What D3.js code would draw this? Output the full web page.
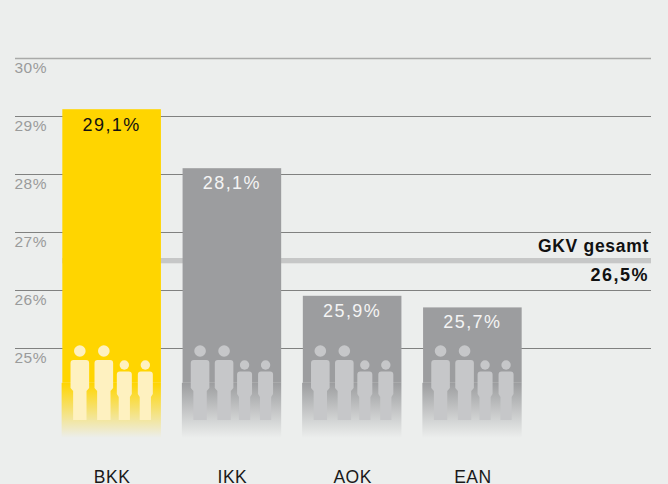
<!DOCTYPE html>
<html><head><meta charset="utf-8">
<script src="https://cdnjs.cloudflare.com/ajax/libs/d3/7.8.5/d3.min.js"></script>
<style>html,body{margin:0;padding:0;background:#eceeed;overflow:hidden}svg{display:block}text{font-family:"Liberation Sans",Arial,sans-serif}</style>
</head><body><div id="c"></div>
<script>
const categories = ["BKK","IKK","AOK","EAN"];
const values = [29.1,28.1,25.9,25.7];
const valueLabels = ["29,1%","28,1%","25,9%","25,7%"];
const tickValues = [25,26,27,28,29,30];
const tickLabels = ["25%","26%","27%","28%","29%","30%"];
const gkvValue = 26.5;
const gkvTitle = "GKV gesamt";
const gkvLabel = "26,5%";
const solidBase = 24.4;
const fadeBase = 23.45;

const W=668,H=484;
const svg=d3.select("#c").append("svg").attr("width",W).attr("height",H);
svg.append("rect").attr("width",W).attr("height",H).attr("fill","#eceeed");
const y=d3.scaleLinear().domain([25,30]).range([348,58]);
const x=d3.scaleBand().domain(categories).range([51.5,532.5]).paddingInner(0.18).paddingOuter(0.09);
const colors=["#ffd500","#9c9d9f"];
const colorOf=i=>i===0?colors[0]:colors[1];
const personOf=i=>i===0?"#fef1c0":"#c6c7c9";
const defs=svg.append("defs");
[0,1].forEach(k=>{
  const g=defs.append("linearGradient").attr("id","fade"+k).attr("x1",0).attr("x2",0).attr("y1",0).attr("y2",1);
  g.append("stop").attr("offset",0).attr("stop-color",colors[k]);
  g.append("stop").attr("offset",1).attr("stop-color",colors[k]).attr("stop-opacity",0);
});
tickValues.forEach((t,i)=>{
  svg.append("line").attr("x1",15).attr("x2",651).attr("y1",y(t)+.5).attr("y2",y(t)+.5)
    .attr("stroke",t===30?"#a9aaa9":"#808180").attr("stroke-width",t===30?1.5:1);
  svg.append("text").attr("x",14.5).attr("y",y(t)+14.5).attr("font-size",15.5).attr("letter-spacing",0.5)
    .attr("fill","#9a9b9b").text(tickLabels[i]);
});
svg.append("rect").attr("x",x(categories[0])).attr("width",651-x(categories[0])).attr("y",y(gkvValue)-3).attr("height",5.3).attr("fill","#c6c7c7");
svg.append("text").attr("x",649).attr("y",y(gkvValue)-9).attr("text-anchor","end").attr("font-size",17.5).attr("font-weight","bold").attr("letter-spacing",0.7).attr("fill","#111").text(gkvTitle);
svg.append("text").attr("x",649).attr("y",y(gkvValue)+20).attr("text-anchor","end").attr("font-size",18).attr("font-weight","bold").attr("letter-spacing",1.5).attr("fill","#111").text(gkvLabel);
const people=[{dx:17.5,hw:9.3,r:5.8,top:360,hip:391,lw:6.7,hy:351},{dx:41.5,hw:9.3,r:5.8,top:360,hip:391,lw:6.7,hy:351},{dx:62,hw:7.5,r:4.7,top:371.5,hip:397,lw:5.6,hy:365},{dx:83,hw:7.5,r:4.7,top:371.5,hip:397,lw:5.6,hy:365}];
categories.forEach((c,i)=>{
  const bx=x(c),bw=x.bandwidth(),k=i===0?0:1;
  svg.append("rect").attr("x",bx).attr("y",y(values[i])-(i===0?1:0)).attr("width",bw).attr("height",y(solidBase)-y(values[i])+(i===0?1:0)).attr("fill",colorOf(i));
  svg.append("rect").attr("x",bx-.7).attr("y",y(solidBase)).attr("width",bw+.7).attr("height",y(fadeBase)-y(solidBase)).attr("fill",`url(#fade${k})`);
  const g=svg.append("g").attr("fill",personOf(i));
  people.forEach(p=>{
    const cx=bx+p.dx;
    g.append("circle").attr("cx",cx).attr("cy",p.hy).attr("r",p.r);
    const d=d3.path();
    d.moveTo(cx-p.hw+3,p.top);d.lineTo(cx+p.hw-3,p.top);d.quadraticCurveTo(cx+p.hw,p.top,cx+p.hw,p.top+3);
    d.lineTo(cx+p.hw,p.hip-3);d.lineTo(cx+p.lw,p.hip);d.lineTo(cx+p.lw,420);d.lineTo(cx-p.lw,420);d.lineTo(cx-p.lw,p.hip);
    d.lineTo(cx-p.hw,p.hip-3);d.lineTo(cx-p.hw,p.top+3);d.quadraticCurveTo(cx-p.hw,p.top,cx-p.hw+3,p.top);d.closePath();
    g.append("path").attr("d",d.toString());
  });
  svg.append("text").attr("x",bx+bw/2).attr("y",y(values[i])+21).attr("text-anchor","middle").attr("font-size",18).attr("letter-spacing",1.4)
    .attr("fill",i===0?"#111":"#f4f4f4").text(valueLabels[i]);
  svg.append("text").attr("x",bx+bw/2+.5).attr("y",483).attr("text-anchor","middle").attr("font-size",17.5).attr("letter-spacing",0.5).attr("fill","#1a1a1a").text(c);
});
</script></body></html>
